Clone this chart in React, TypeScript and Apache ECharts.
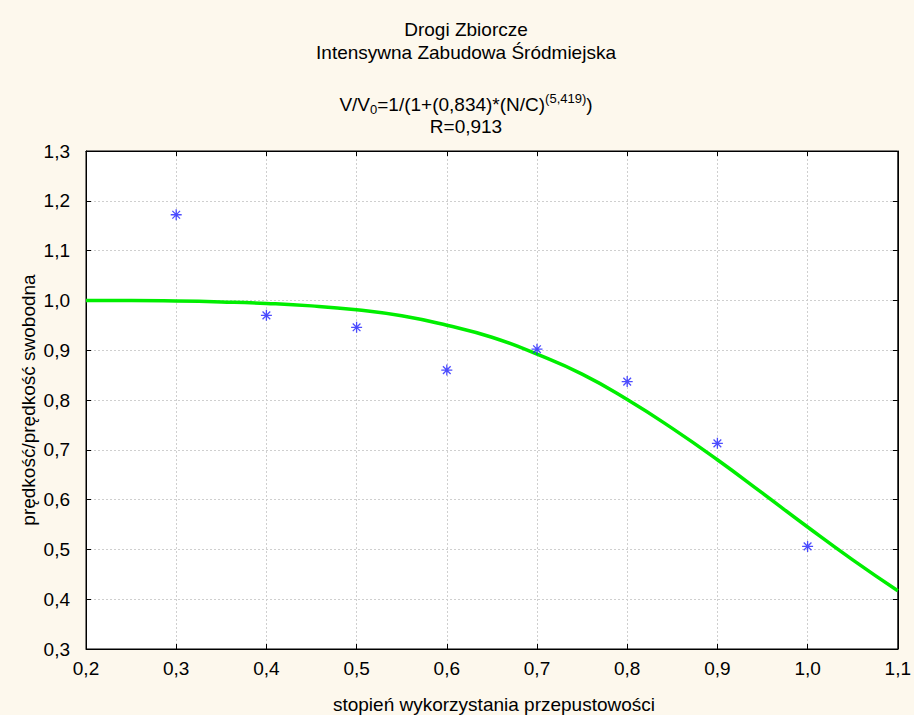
import React, { useEffect, useRef } from "react";
import * as echarts from "echarts";

const titleLines = ["Drogi Zbiorcze", "Intensywna Zabudowa Śródmiejska"];
const rLine = "R=0,913";
const xAxisName = "stopień wykorzystania przepustowości";
const yAxisName = "prędkość/prędkość swobodna";

const pointX = [0.3, 0.4, 0.5, 0.6, 0.7, 0.8, 0.9, 1.0];
const pointY = [1.172, 0.97, 0.946, 0.86, 0.902, 0.837, 0.713, 0.506];

const curveX = [0.2, 0.25, 0.3, 0.35, 0.4, 0.45, 0.5, 0.55, 0.6, 0.65, 0.7, 0.75, 0.8, 0.85, 0.9, 0.95, 1.0, 1.05, 1.1];
const curveY = [1.0, 1.0, 0.999, 0.997, 0.994, 0.989, 0.981, 0.969, 0.95, 0.926, 0.892, 0.852, 0.801, 0.743, 0.68, 0.613, 0.545, 0.479, 0.417];

const FONT = "'Liberation Sans', Arial, sans-serif";
const FS = 19;
const fmt = (v: number) => v.toFixed(1).replace(".", ",");

const asterisk =
  "path://M5,0L5,10M0,5L10,5M1.5,1.5L8.5,8.5M1.5,8.5L8.5,1.5";

export default function App() {
  const ref = useRef<HTMLDivElement>(null);
  useEffect(() => {
    const chart = echarts.init(ref.current!, null, { renderer: "svg" });
    const gridL = 86, gridT = 151, gridR = 11, gridB = 66;
    const axisCommon = {
      type: "value" as const,
      axisLine: { show: true, lineStyle: { color: "#000", width: 1 } },
      axisTick: { show: true, inside: true, length: 5, lineStyle: { color: "#000" } },
    };
    const txt = (text: string, x: number, y: number, extra: any = {}) => ({
      type: "text",
      x,
      y,
      ...extra,
      style: {
        text,
        fontSize: FS,
        fontFamily: FONT,
        fill: "#000",
        align: "center",
        verticalAlign: "middle",
      },
    });
    chart.setOption({
      animation: false,
      backgroundColor: "#fdf8ed",
      textStyle: { fontFamily: FONT },
      grid: {
        left: gridL, top: gridT, right: gridR, bottom: gridB,
        show: true, backgroundColor: "#ffffff", borderColor: "#000", borderWidth: 1,
      },
      graphic: [
        txt(titleLines[0], 466, 29),
        txt(titleLines[1], 466, 52),
        {
          type: "text", x: 466, y: 104,
          style: {
            text: "{n|V/V}{sub|0}{n|=1/(1+(0,834)*(N/C)}{sup|(5,419)}{n|)}",
            align: "center",
            verticalAlign: "middle",
            rich: {
              n: { fontSize: FS, fontFamily: FONT, fill: "#000", lineHeight: 24 },
              sub: { fontSize: 13, fontFamily: FONT, fill: "#000", lineHeight: 13, verticalAlign: "bottom" },
              sup: { fontSize: 13, fontFamily: FONT, fill: "#000", lineHeight: 13, verticalAlign: "top" },
            },
          },
        },
        txt(rLine, 466, 126),
        txt(yAxisName, 28, 400, { rotation: Math.PI / 2 }),
        txt(xAxisName, 494, 704),
      ],
      xAxis: [
        {
          ...axisCommon, position: "bottom", min: 0.2, max: 1.1, interval: 0.1,
          axisLabel: { formatter: fmt, fontSize: FS, color: "#000", margin: 10, fontFamily: FONT },
          splitLine: { show: true, lineStyle: { color: "#cfcfcf", type: [2, 2], width: 1 } },
        },
        {
          ...axisCommon, position: "top", min: 0.2, max: 1.1, interval: 0.1,
          axisLabel: { show: false }, splitLine: { show: false },
        },
      ],
      yAxis: [
        {
          ...axisCommon, position: "left", min: 0.3, max: 1.3, interval: 0.1,
          axisLabel: { formatter: fmt, fontSize: FS, color: "#000", margin: 16, fontFamily: FONT },
          splitLine: { show: true, lineStyle: { color: "#cfcfcf", type: [2, 2], width: 1 } },
        },
        {
          ...axisCommon, position: "right", min: 0.3, max: 1.3, interval: 0.1,
          axisLabel: { show: false }, splitLine: { show: false },
        },
      ],
      series: [
        {
          type: "line",
          data: curveX.map((x, i) => [x, curveY[i]]),
          smooth: true,
          showSymbol: false,
          lineStyle: { color: "#00ee00", width: 3.5 },
          z: 2,
        },
        {
          type: "scatter",
          data: pointX.map((x, i) => [x, pointY[i]]),
          symbol: asterisk,
          symbolSize: 11,
          itemStyle: { color: "rgba(0,0,0,0)", borderColor: "#2020ff", borderWidth: 1.3 },
          z: 3,
        },
      ],
    });
    return () => chart.dispose();
  }, []);
  return <div ref={ref} style={{ width: 914, height: 715, position: "absolute", left: 0, top: 0 }} />;
}
